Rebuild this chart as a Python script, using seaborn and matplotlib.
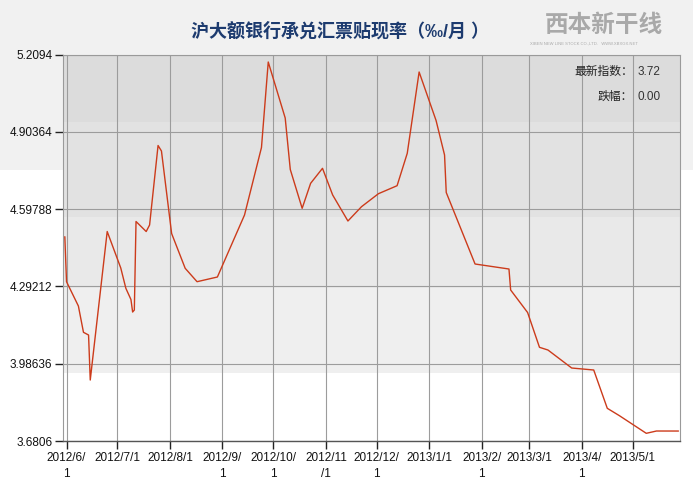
import matplotlib
matplotlib.use('Agg')
import matplotlib.pyplot as plt
import matplotlib.dates as mdates
from matplotlib.patches import Rectangle
import seaborn as sns
import pandas as pd

# ---------------- data ----------------
dates = ['2012-05-31', '2012-06-01', '2012-06-08', '2012-06-11', '2012-06-14', '2012-06-15',
         '2012-06-25', '2012-07-03', '2012-07-06', '2012-07-09', '2012-07-10', '2012-07-11',
         '2012-07-12', '2012-07-18', '2012-07-20', '2012-07-25', '2012-07-27', '2012-08-02',
         '2012-08-10', '2012-08-17', '2012-08-29', '2012-09-14', '2012-09-24', '2012-09-28',
         '2012-10-08', '2012-10-11', '2012-10-18', '2012-10-23', '2012-10-30', '2012-11-05',
         '2012-11-14', '2012-11-22', '2012-12-02', '2012-12-13', '2012-12-19', '2012-12-26',
         '2013-01-05', '2013-01-10', '2013-01-11', '2013-01-28', '2013-02-17', '2013-02-18',
         '2013-02-28', '2013-03-07', '2013-03-12', '2013-03-26', '2013-04-08', '2013-04-16',
         '2013-04-23', '2013-05-09', '2013-05-15', '2013-05-28']
rates = [4.4887, 4.3107, 4.2145, 4.1105, 4.0998, 3.9218,
         4.5092, 4.3649, 4.2846, 4.2403, 4.1908, 4.1987,
         4.5488, 4.5092, 4.5350, 4.8494, 4.8277, 4.5013,
         4.3637, 4.3107, 4.3293, 4.5745, 4.8415, 5.1797,
         4.9582, 4.7545, 4.6010, 4.6999, 4.7592, 4.6536,
         4.5508, 4.6073, 4.6588, 4.6904, 4.8186, 5.1402,
         4.9483, 4.8119, 4.6635, 4.3807, 4.3609, 4.2778,
         4.1888, 4.0512, 4.0405, 3.9693, 3.9614, 3.8099,
         3.7814, 3.7110, 3.7201, 3.7200]

y_ticks = [3.6806, 3.98636, 4.29212, 4.59788, 4.90364, 5.2094]
y_tick_labels = ['3.6806', '3.98636', '4.29212', '4.59788', '4.90364', '5.2094']
x_tick_dates = ['2012-06-01', '2012-07-01', '2012-08-01', '2012-09-01', '2012-10-01', '2012-11-01',
                '2012-12-01', '2013-01-01', '2013-02-01', '2013-03-01', '2013-04-01', '2013-05-01']
x_tick_labels = ['2012/6/\n1', '2012/7/1', '2012/8/1', '2012/9/\n1', '2012/10/\n1', '2012/11\n/1',
                 '2012/12/\n1', '2013/1/1', '2013/2/\n1', '2013/3/1', '2013/4/\n1', '2013/5/1']
title = '沪大额银行承兑汇票贴现率（‰/月 ）'
latest_label = '最新指数：'
latest_value = '3.72'
change_label = '跌幅：'
change_value = '0.00'
logo_text = '西本新干线'
logo_sub = 'XIBEN NEW LINE STOCK CO.,LTD.   WWW.XBXGX.NET'

# ---------------- style ----------------
sns.set_theme(style='white')
plt.rcParams['font.family'] = ['Liberation Sans', 'Noto Sans CJK SC', 'DejaVu Sans']

W, H = 693, 487
fig = plt.figure(figsize=(W / 100, H / 100), dpi=100)
fig.patch.set_facecolor('white')
fig.patches.append(Rectangle((0, 1 - 170 / H), 1, 170 / H, transform=fig.transFigure,
                             facecolor='#f1f1f1', edgecolor='none', zorder=-5))

left, right, top, bottom = 63.3, 679.5, 54.5, 441.0
ax = fig.add_axes([left / W, 1 - bottom / H, (right - left) / W, (bottom - top) / H])
ax.set_facecolor('white')

bands = [(0.8254, 1.0, '#dcdcdc'), (0.5796, 0.8254, '#e2e2e2'),
         (0.3959, 0.5796, '#e9e9e9'), (0.176, 0.3959, '#efefef')]
for y0, y1, c in bands:
    ax.add_patch(Rectangle((0, y0), 1, y1 - y0, transform=ax.transAxes,
                           facecolor=c, edgecolor='none', zorder=0))

df = pd.DataFrame({'date': pd.to_datetime(dates), 'rate': rates})
sns.lineplot(data=df, x='date', y='rate', ax=ax, color='#cc3b1b', linewidth=1.0, zorder=3)

base = pd.Timestamp('2012-06-01')
ax.set_xlim(mdates.date2num(base) - 1.9, mdates.date2num(base) + 361.6)
ax.set_ylim(y_ticks[0], y_ticks[-1])

ax.set_yticks(y_ticks)
ax.set_yticklabels(y_tick_labels)
ax.set_xticks([mdates.date2num(pd.Timestamp(d)) for d in x_tick_dates])
ax.set_xticklabels(x_tick_labels, linespacing=1.45)

ax.set_xlabel('')
ax.set_ylabel('')
ax.set_axisbelow(True)
ax.grid(True, color='#9c9c9c', linewidth=0.8)
ax.tick_params(axis='both', which='major', bottom=True, left=True, direction='out',
               length=6, width=1, color='#222222', labelsize=8.5, labelcolor='#111111', pad=2)

for s in ['top', 'right', 'left']:
    ax.spines[s].set_color('#9a9a9a')
    ax.spines[s].set_linewidth(0.8)
ax.spines['bottom'].set_color('#555555')
ax.spines['bottom'].set_linewidth(1.0)

# ---------------- texts ----------------
fig.text(340 / W, 1 - 31 / H, title, ha='center', va='center', fontsize=13,
         color='#1d3b6f', fontweight='bold')
fig.text(545 / W, 1 - 25 / H, logo_text, ha='left', va='center', fontsize=17,
         color='#a9a9a9', fontweight='bold')
fig.text(584 / W, 1 - 44 / H, logo_sub, ha='center', va='center', fontsize=3,
         color='#a9a9a9')

fig.text(633 / W, 1 - 72 / H, latest_label, ha='right', va='center', fontsize=8.5, color='#222222')
fig.text(638 / W, 1 - 72 / H, latest_value, ha='left', va='center', fontsize=8.5, color='#333333')
fig.text(633 / W, 1 - 97 / H, change_label, ha='right', va='center', fontsize=8.5, color='#222222')
fig.text(638 / W, 1 - 97 / H, change_value, ha='left', va='center', fontsize=8.5, color='#333333')

fig.savefig('out.png', dpi=100)
